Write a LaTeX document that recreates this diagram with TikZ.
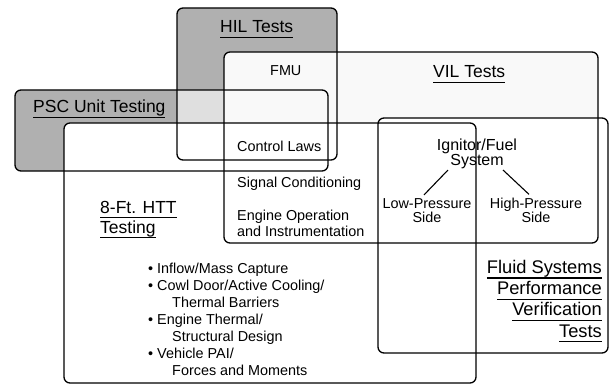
\documentclass[tikz,border=0pt]{standalone}
\usepackage{fontspec}
\setmainfont{Liberation Sans}
\usetikzlibrary{positioning}
\newcommand\uline[1]{\setbox0\hbox{#1}\rlap{\rule[-0.3em]{\wd0}{0.075em}}\box0}
\tikzset{
  region/.style={draw,rounded corners=6pt,line width=1.3pt},
  stipple/.style={fill=gray!62,rounded corners=6pt},
  heading/.style={font=\fontsize{17.5}{20}\selectfont,inner sep=0pt,align=left},
  entry/.style={font=\fontsize{14.4}{17}\selectfont,inner sep=0pt,align=left},
  link/.style={line width=1.1pt}
}
\begin{document}
\begin{tikzpicture}[x=1pt,y=-1pt]
  \useasboundingbox (0,0) rectangle (610,385);
  % shaded stands, then the white areas laid over them
  \fill[stipple] (177,8) rectangle (337,160);
  \fill[stipple] (15,90) rectangle (328,171);
  \fill[gray!25] (177,90) rectangle (224,123);
  \fill[gray!5,rounded corners=6pt] (224,52) rectangle (598,243);
  \fill[white,rounded corners=6pt] (378,118) rectangle (608,353);
  \fill[white,rounded corners=6pt] (64,123) rectangle (476,383);

  \draw[region] (177,8) rectangle (337,160);    % HIL
  \draw[region] (15,90) rectangle (328,171);    % PSC
  \draw[region] (224,52) rectangle (598,243);   % VIL
  \draw[region] (378,118) rectangle (608,353);  % fluid systems
  \draw[region] (64,123) rectangle (476,383);   % 8-ft HTT

  % multi-line nodes sit on the baseline of their last line
  \node[heading,anchor=base west] (hil) at (220,33) {\uline{HIL Tests}};
  \node[entry,anchor=base west] (fmu) at (270,76) {FMU};
  \node[heading,anchor=base west] (vil) at (433,78) {\uline{VIL Tests}};
  \node[heading,anchor=base west] (psc) at (33,113) {\uline{PSC Unit Testing}};
  \node[entry,anchor=base west] (laws) at (237,151) {Control Laws};
  \node[entry,anchor=base west] (signal) at (237,187) {Signal Conditioning};
  \node[entry,anchor=base west,font=\fontsize{14.4}{16}\selectfont] (engine) at (237,236)
    {Engine Operation\\and Instrumentation};
  \node[heading,anchor=base west] (htt) at (100,233) {\uline{8-Ft. HTT}\\\uline{Testing}};
  \node[entry,anchor=base west] (items) at (148,375)
    {\textbullet\ Inflow/Mass Capture\\
     \textbullet\ Cowl Door/Active Cooling/\\
     \hspace*{24pt}Thermal Barriers\\
     \textbullet\ Engine Thermal/\\
     \hspace*{24pt}Structural Design\\
     \textbullet\ Vehicle PAI/\\
     \hspace*{24pt}Forces and Moments};

  \node[entry,align=center,inner sep=1.5pt,font=\fontsize{16}{15}\selectfont,anchor=base]
    (ign) at (477,165) {Ignitor/Fuel\\System};
  \node[entry,align=center,inner sep=3pt,font=\fontsize{14.4}{14}\selectfont,anchor=base]
    (lps) at (427,222) {Low-Pressure\\Side};
  \node[entry,align=center,inner sep=3pt,font=\fontsize{14.4}{14}\selectfont,anchor=base]
    (hps) at (536,222) {High-Pressure\\Side};
  \draw[link] ([xshift=-29pt]ign.south) -- ([xshift=-3pt]lps.north);
  \draw[link] ([xshift=26pt]ign.south) -- ([xshift=-7pt]hps.north);

  \node[heading,align=right,anchor=base east,font=\fontsize{18.3}{21.3}\selectfont] (fluid) at (602,337)
    {\uline{Fluid Systems}\\\uline{Performance}\\\uline{Verification}\\\uline{Tests}};
\end{tikzpicture}
\end{document}
